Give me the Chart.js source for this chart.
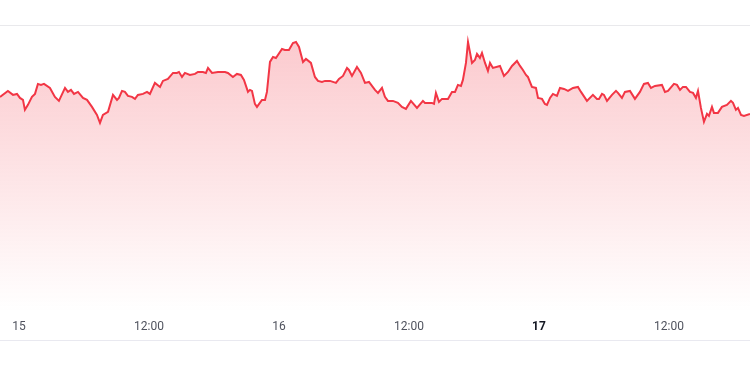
<!DOCTYPE html>
<html lang="en">
<head>
    <meta charset="UTF-8">
    <title>Price chart</title>
    <script src="https://cdn.jsdelivr.net/npm/chart.js"></script>
    <style>
        body { margin: 0; background: #fff; }
        #wrap { position: relative; width: 750px; height: 375px; overflow: hidden; }
        #topLine { position: absolute; left: 0; top: 25px; width: 750px; height: 0; border-top: 1px solid #e9e9ec; }
        #bottomLine { position: absolute; left: 0; top: 340px; width: 750px; height: 0; border-top: 1px solid #e9e9f0; }
        #chart { position: absolute; left: 0; top: 0; display: block; width: 750px; height: 347px; }
    </style>
</head>
<body>
    <div id="wrap">
        <canvas id="chart" width="750" height="347"></canvas>
        <div id="topLine"></div>
        <div id="bottomLine"></div>
    </div>

    <script>
        // hours since day 15 00:00
        const hours = [
            -1.75, -1.02, -0.55, -0.18, 0.09, 0.37, 0.55, 0.83, 1.20, 1.48,
            1.75, 2.03, 2.31, 2.86, 3.32, 3.69, 4.25, 4.52, 4.80, 5.08,
            5.45, 5.91, 6.28, 6.74, 7.20, 7.48, 7.75, 8.22, 8.68, 9.05,
            9.23, 9.51, 9.78, 10.06, 10.43, 10.71, 10.98, 11.45, 11.82, 12.09,
            12.55, 13.02, 13.29, 13.75, 14.22, 14.58, 14.77, 15.05, 15.32, 15.78,
            16.25, 16.52, 16.98, 17.26, 17.45, 17.82, 18.37, 19.02, 19.29, 19.75,
            20.12, 20.49, 20.77, 21.14, 21.32, 21.51, 21.78, 21.97, 22.43, 22.71,
            22.89, 23.17, 23.45, 23.72, 24.28, 24.55, 24.92, 25.29, 25.57, 25.85,
            26.22, 26.49, 26.95, 27.32, 27.60, 27.97, 28.25, 28.71, 29.26, 29.54,
            29.91, 30.28, 30.46, 30.74, 31.20, 31.57, 31.94, 32.31, 32.86, 33.14,
            33.51, 33.78, 34.06, 34.52, 34.98, 35.35, 35.72, 36.18, 36.74, 37.29,
            37.48, 38.12, 38.31, 38.49, 38.77, 39.05, 39.60, 39.97, 40.25, 40.52,
            40.80, 40.98, 41.26, 41.45, 41.82, 42.09, 42.28, 42.55, 42.74, 43.02,
            43.29, 43.48, 43.75, 44.40, 44.77, 45.14, 45.51, 45.97, 46.25, 46.52,
            46.80, 46.98, 47.35, 47.72, 47.91, 48.28, 48.55, 48.74, 49.02, 49.29,
            49.66, 49.94, 50.31, 50.68, 51.14, 51.60, 51.88, 52.43, 52.98, 53.35,
            53.54, 53.82, 54.00, 54.28, 54.74, 55.11, 55.29, 55.66, 55.94, 56.40,
            56.86, 57.32, 57.69, 58.06, 58.34, 58.71, 59.35, 59.63, 59.91, 60.46,
            60.74, 61.02, 61.29, 61.57, 61.94, 62.22, 62.49, 62.68, 62.95, 63.23,
            63.51, 63.69, 63.97, 64.15, 64.52, 64.89, 65.35, 65.72, 65.91, 66.18,
            66.37, 66.65, 66.92, 67.48
        ];
        const prices = [
            21.5, 22.1, 21.7, 21.8, 21.4, 21.2, 20.2, 20.7, 21.5, 21.8,
            22.8, 22.7, 22.8, 22.4, 21.5, 21.1, 22.4, 22.0, 22.2, 21.8,
            22.0, 21.4, 21.2, 20.5, 19.7, 18.9, 19.7, 20.0, 21.7, 21.2,
            21.4, 22.1, 22.0, 21.6, 21.5, 21.3, 21.7, 21.8, 22.0, 21.8,
            22.9, 22.5, 23.1, 23.3, 23.9, 23.9, 24.0, 23.5, 23.9, 23.7,
            23.8, 24.0, 24.0, 23.9, 24.4, 23.9, 24.0, 24.0, 23.9, 23.5,
            23.8, 23.7, 23.2, 22.0, 22.2, 22.1, 20.8, 20.5, 21.2, 21.2,
            22.0, 25.0, 25.5, 25.4, 26.3, 26.2, 26.2, 26.9, 27.0, 26.5,
            25.0, 25.3, 24.9, 23.5, 23.1, 23.0, 23.1, 23.1, 22.9, 23.3,
            23.6, 24.4, 24.2, 23.6, 24.5, 23.9, 22.9, 23.0, 22.2, 21.9,
            22.4, 21.5, 21.1, 21.1, 20.9, 20.5, 20.3, 21.1, 20.4, 21.1,
            20.9, 20.9, 20.8, 21.9, 21.0, 21.3, 21.3, 22.0, 22.0, 22.7,
            22.6, 23.2, 24.9, 27.0, 24.9, 25.2, 25.8, 25.4, 25.9, 24.9,
            24.1, 24.9, 24.4, 24.6, 23.6, 24.0, 24.6, 25.1, 24.6, 24.2,
            23.7, 23.5, 22.5, 22.4, 21.4, 21.3, 20.8, 20.7, 21.4, 21.8,
            21.6, 22.4, 22.3, 22.1, 22.4, 22.5, 22.0, 21.1, 21.7, 21.3,
            21.3, 21.8, 21.7, 21.1, 21.7, 22.1, 21.9, 21.4, 22.0, 22.1,
            21.3, 22.0, 22.8, 22.9, 22.4, 22.6, 22.7, 22.0, 22.1, 22.8,
            22.7, 22.2, 22.5, 22.5, 22.0, 21.9, 21.4, 22.1, 20.4, 19.0,
            19.8, 19.6, 20.5, 19.9, 19.9, 20.5, 20.7, 21.1, 20.9, 20.2,
            20.4, 19.7, 19.6, 19.8
        ];
        const tickHours = [0, 12, 24, 36, 48, 60];
        const firstDay = 15;
        const boldTick = 48;

        const lineColor = '#f23645';

        function fillGradient(context) {
            const area = context.chart.chartArea;
            if (!area) return 'rgba(242,54,69,0.2)';
            const g = context.chart.ctx.createLinearGradient(0, area.top, 0, area.bottom);
            g.addColorStop(0, 'rgba(242,54,69,0.28)');
            g.addColorStop(1, 'rgba(242,54,69,0)');
            return g;
        }

        new Chart(document.getElementById('chart'), {
            type: 'line',
            data: {
                datasets: [{
                    data: hours.map((h, i) => ({ x: h, y: prices[i] })),
                    borderColor: lineColor,
                    borderWidth: 2,
                    backgroundColor: fillGradient,
                    fill: 'start',
                    pointRadius: 0,
                    tension: 0
                }]
            },
            options: {
                responsive: false,
                animation: false,
                layout: { padding: { top: 26, left: 0, right: 0, bottom: 5 } },
                plugins: { legend: { display: false }, tooltip: { enabled: false } },
                scales: {
                    x: {
                        type: 'linear',
                        min: hours[0],
                        max: hours[hours.length - 1],
                        afterBuildTicks: axis => { axis.ticks = tickHours.map(v => ({ value: v })); },
                        grid: { display: false, drawTicks: false },
                        border: { display: false },
                        ticks: {
                            padding: 8,
                            maxRotation: 0,
                            autoSkip: false,
                            color: ctx => ctx.tick && ctx.tick.value === boldTick ? '#131722' : '#50535e',
                            font: ctx => ({
                                family: 'Roboto, "Noto Sans", sans-serif',
                                size: 12,
                                weight: ctx.tick && ctx.tick.value === boldTick ? 'bold' : 'normal'
                            }),
                            callback: v => v % 24 === 0 ? String(firstDay + v / 24) : '12:00'
                        }
                    },
                    y: {
                        display: false,
                        min: 0,
                        max: 28.6
                    }
                }
            }
        });
    </script>
</body>
</html>
